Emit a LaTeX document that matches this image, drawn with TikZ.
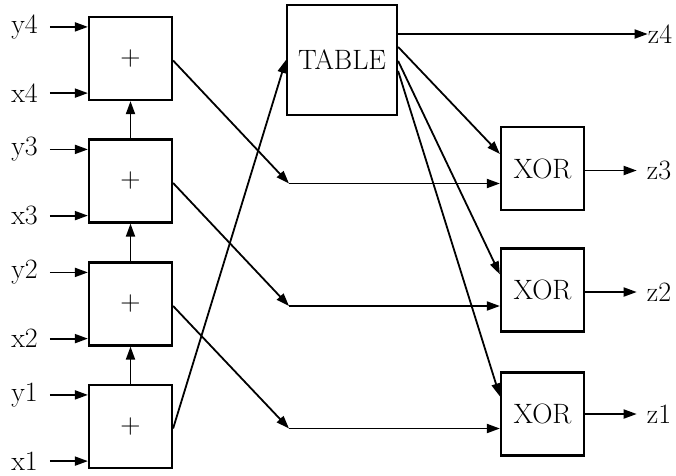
\documentclass[tikz,border=0pt]{standalone}
\usetikzlibrary{arrows.meta,calc}
\begin{document}
\begin{tikzpicture}[x=1pt,y=-1pt,
  every node/.style={font=\fontsize{28}{32}\selectfont},
  blk/.style={draw,line width=2.2pt,minimum size=83pt,inner sep=0pt},
  tbl/.style={blk,minimum size=110pt},
  lbl/.style={inner sep=0pt},
  wire/.style={line width=1.8pt,-{Triangle[length=13pt,width=9pt]}}]
\useasboundingbox (0,0) rectangle (676,475);

% adder chain
\node[blk] (a4) at (130.5,58.5) {+};
\node[blk] (a3) at (130.5,181) {+};
\node[blk] (a2) at (130.5,304) {+};
\node[blk] (a1) at (130.5,426.5) {+};

% lookup table and xor gates
\node[tbl] (t) at (342,60) {TABLE};
\node[blk] (x3) at (542.5,168.5) {XOR};
\node[blk] (x2) at (542.5,290) {XOR};
\node[blk] (x1) at (542.5,414) {XOR};

% operand inputs
\foreach \i in {1,...,4}{
  \node[lbl,anchor=east] (ly\i) at ($(a\i.north west)+(-50,11)$) {y\i};
  \node[lbl,anchor=east] (lx\i) at ($(a\i.south west)+(-50,-8)$) {x\i};
  \draw[wire,shorten <=12pt] (ly\i.east) -- (a\i.west |- ly\i.east);
  \draw[wire,shorten <=12pt] (lx\i.east) -- (a\i.west |- lx\i.east);
}

% carry chain
\draw[wire] (a1.north) -- (a2.south);
\draw[wire] (a2.north) -- (a3.south);
\draw[wire] (a3.north) -- (a4.south);

% sums to xor gates
\coordinate (b3) at (289,183.5);
\coordinate (b2) at (289,306);
\coordinate (b1) at (289,428.5);
\draw[wire] ($(a4.east)+(0,2)$) -- (b3);
\draw[wire] ($(a3.east)+(0,2)$) -- (b2);
\draw[wire] ($(a2.east)+(0,2)$) -- (b1);
\draw[wire] (b3) -- (x3.west |- b3);
\draw[wire] (b2) -- (x2.west |- b2);
\draw[wire] (b1) -- (x1.west |- b1);

% lowest sum drives the table
\draw[wire] ($(a1.east)+(0,2)$) -- (t.west);

% table outputs
\node[lbl] (z4) at (660,34) {z4};
\node[lbl] (z3) at (659,170.5) {z3};
\node[lbl] (z2) at (659,292) {z2};
\node[lbl] (z1) at (659,414) {z1};
\draw[wire] (t.east |- z4) -- (z4.west);
\draw[wire] ($(t.north east)+(0,43)$) -- ($(x3.north west)+(0,28)$);
\draw[wire] ($(t.north east)+(0,57)$) -- ($(x2.north west)+(0,27)$);
\draw[wire] ($(t.north east)+(0,67)$) -- ($(x1.north west)+(0,25)$);

% xor outputs
\draw[wire,shorten >=10pt] (x3.east |- z3) -- (z3.west);
\draw[wire,shorten >=10pt] (x2.east |- z2) -- (z2.west);
\draw[wire,shorten >=10pt] (x1.east |- z1) -- (z1.west);
\end{tikzpicture}
\end{document}
